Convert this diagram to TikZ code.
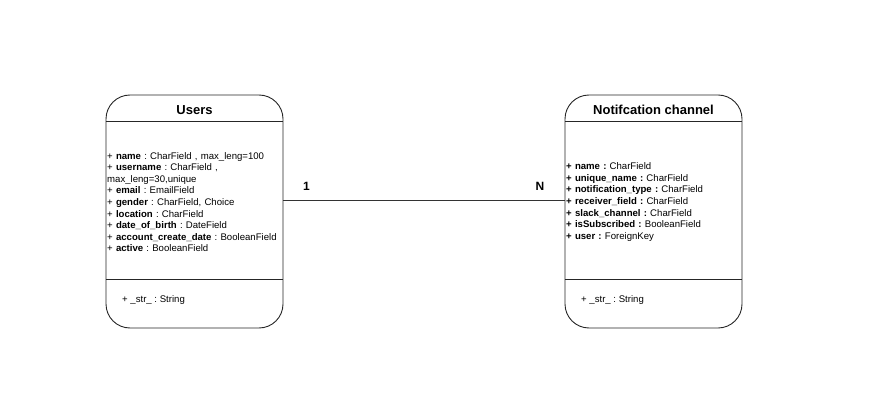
\documentclass[tikz,border=0pt]{standalone}
\usepackage{fontspec}
\setmainfont{Liberation Sans}
\frenchspacing
\begin{document}
\begin{tikzpicture}[x=1pt,y=-1pt,
  classbox/.style={draw=black!85, line width=0.9pt, rounded corners=24pt,
    minimum width=177pt, minimum height=233pt, inner sep=0pt},
  compartment/.style={minimum width=177pt, minimum height=157pt, inner sep=0pt},
  classtitle/.style={font=\fontsize{13}{15}\selectfont\bfseries, inner sep=0pt},
  fields/.style={font=\fontsize{9.6}{11.6}\selectfont, text width=175pt, align=left,
    inner sep=0pt},
  method/.style={font=\fontsize{9.6}{11.6}\selectfont, inner sep=0pt, anchor=west},
  sep/.style={draw=black!85, line width=0.9pt},
  link/.style={draw=black!80, line width=0.8pt},
  mult/.style={font=\fontsize{12}{14}\selectfont\bfseries, inner sep=0pt}]
\useasboundingbox (0,0) rectangle (891,414);

% Users class
\node[classbox] (users) at (194.5,211.5) {};
\node[compartment] (usersMid) at (194.5,200.5) {};
\node[classtitle] (usersTitle) at (194.5,110) {Users};
\node[fields] (usersFields) at (194.7,202) {%
+ \textbf{name} : CharField , max\_leng=100\\
+ \textbf{username} : CharField ,\\
max\_leng=30,unique\\
+ \textbf{email} : EmailField\\
+ \textbf{gender} : CharField, Choice\\
+ \textbf{location} : CharField\\
+ \textbf{date\_of\_birth} : DateField\\
+ \textbf{account\_create\_date} : BooleanField\\
+ \textbf{active} : BooleanField};
\draw[sep] (usersMid.north west) -- (usersMid.north east);
\draw[sep] (usersMid.south west) -- (usersMid.south east);
\node[method] (usersStr) at (122,300.5) {+ \_str\_ : String};

% Notification channel class
\node[classbox] (notif) at (653.5,211.5) {};
\node[compartment] (notifMid) at (653.5,200.5) {};
\node[classtitle] (notifTitle) at (653.5,110) {Notifcation channel};
\node[fields] (notifFields) at (653.7,202) {%
\textbf{+ name :} CharField\\
\textbf{+ unique\_name :} CharField\\
\textbf{+ notification\_type :} CharField\\
\textbf{+ receiver\_field :} CharField\\
\textbf{+ slack\_channel :} CharField\\
\textbf{+ isSubscribed :} BooleanField\\
\textbf{+ user :} ForeignKey};
\draw[sep] (notifMid.north west) -- (notifMid.north east);
\draw[sep] (notifMid.south west) -- (notifMid.south east);
\node[method] (notifStr) at (581,300.5) {+ \_str\_ : String};

% One-to-many association
\draw[link] (usersMid.east) -- (notifMid.west);
\node[mult] (one) at (306.5,186.5) {1};
\node[mult] (many) at (540,186.5) {N};
\end{tikzpicture}
\end{document}
